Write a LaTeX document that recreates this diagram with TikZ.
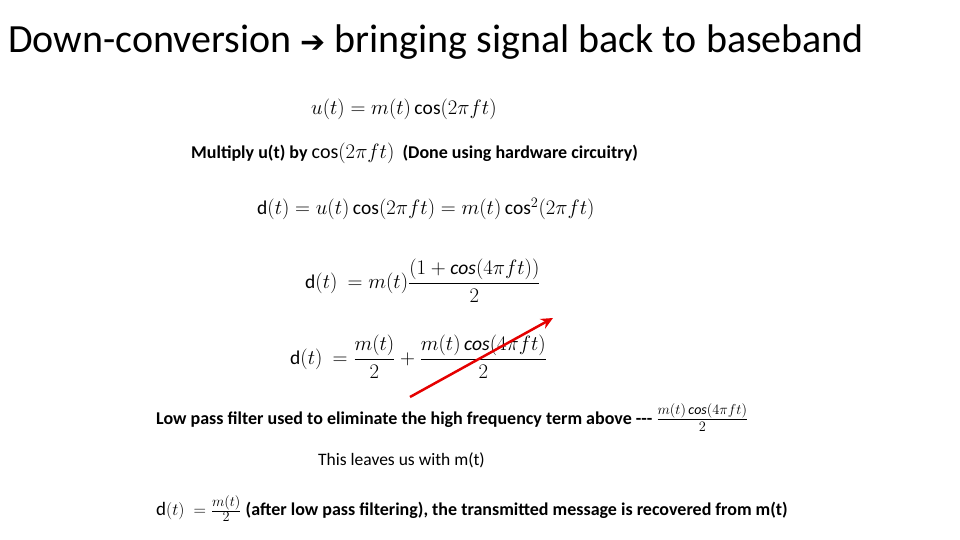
\documentclass[tikz,border=0pt]{standalone}
\usepackage{amsmath}
\usepackage{fontspec}
\setmainfont{Carlito}
\usetikzlibrary{arrows.meta}
\tikzset{eq/.style={anchor=west,inner sep=0pt,font=\fontsize{18}{22}\selectfont\bfseries},
  meq/.style={anchor=west,inner sep=0pt,font=\fontsize{19.5}{24}\selectfont\bfseries}}
\begin{document}
\begin{tikzpicture}[x=1pt,y=1pt]
\useasboundingbox (0,0) rectangle (960,-540);
\fill[white] (0,0) rectangle (960,-540);
\node[anchor=base west,inner sep=0pt,font=\fontsize{40}{44}\selectfont] (title) at (8,-53)
  {Down-conversion {\fontspec{DejaVu Sans}\fontsize{30}{34}\selectfont\char"2794}\ bringing signal back to baseband};
\node[meq] (e1) at (311,-109) {$u(t) = m(t)\cos(2\pi f t)$};
\node[eq] (e2) at (191,-153) {Multiply u(t) by {\fontsize{20}{22}\selectfont$\cos(2\pi f t)$} \ (Done using hardware circuitry)};
\node[meq] (e3) at (257,-209) {$\mathrm{d}(t) = u(t)\cos(2\pi f t) = m(t)\cos^2(2\pi f t)$};
\node[meq] (e4) at (305,-281) {$\mathrm{d}(t)\ = m(t)\dfrac{(1+\mathit{cos}(4\pi f t))}{2}$};
\node[meq] (e5) at (290,-357) {$\mathrm{d}(t)\ = \dfrac{m(t)}{2} + \dfrac{m(t)\,\mathit{cos}(4\pi f t)}{2}$};
\node[eq] (e6) at (156,-418) {Low pass filter used to eliminate the high frequency term above -{}-{}- {\fontsize{20}{22}\selectfont$\frac{m(t)\,\mathit{cos}(4\pi f t)}{2}$}};
\node[anchor=west,inner sep=0pt,font=\fontsize{17.5}{21}\selectfont] (e7) at (318,-460) {This leaves us with m(t)};
\node[eq] (e8) at (156,-509) {{\fontsize{19}{22}\selectfont$\mathrm{d}(t)\ = \frac{m(t)}{2}$} (after low pass filtering), the transmitted message is recovered from m(t)};
\coordinate (a1) at (410,-397);
\coordinate (a2) at (553,-318);
\draw[red!90!black,line width=2.5pt,-{Stealth[length=12pt,width=11pt]}] (a1) -- (a2);
\end{tikzpicture}
\end{document}
